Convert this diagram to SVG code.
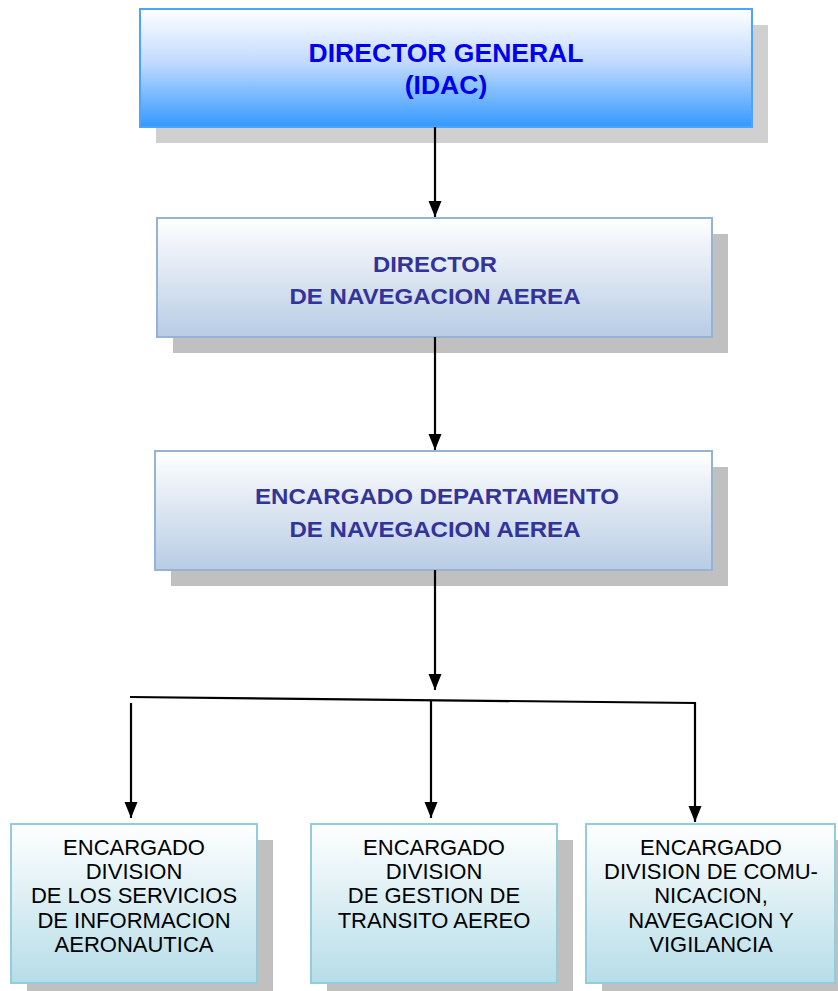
<svg xmlns="http://www.w3.org/2000/svg" width="838" height="991" viewBox="0 0 838 991">
<defs>
<linearGradient id="gTop" x1="0" y1="0" x2="0" y2="1">
<stop offset="0" stop-color="#ffffff"/>
<stop offset="0.45" stop-color="#c2daff"/>
<stop offset="1" stop-color="#3399ff"/>
</linearGradient>
<linearGradient id="gMid" x1="0" y1="0" x2="0" y2="1">
<stop offset="0" stop-color="#ffffff"/>
<stop offset="1" stop-color="#b8cce4"/>
</linearGradient>
<linearGradient id="gBot" x1="0" y1="0" x2="0" y2="1">
<stop offset="0" stop-color="#ffffff"/>
<stop offset="1" stop-color="#b6dde8"/>
</linearGradient>
<marker id="arr" markerUnits="userSpaceOnUse" markerWidth="16" markerHeight="18" refX="8" refY="17" orient="0" viewBox="0 0 16 18">
<path d="M1.5,1 L14.5,1 L8,17 Z" fill="#000"/>
</marker>
<style>
.shadowA{fill:#d0d0d0;}
.shadow{fill:#c0c0c0;}
.tTop{font-family:"Liberation Sans",Arial,sans-serif;font-weight:bold;font-size:26.5px;fill:#0000ee;text-anchor:middle;}
.tMid{font-family:"Liberation Sans",Arial,sans-serif;font-weight:bold;font-size:22px;fill:#333399;text-anchor:middle;}
.tBot{font-family:"Liberation Sans",Arial,sans-serif;font-size:22px;fill:#000;text-anchor:middle;}
.conn{stroke:#000;stroke-width:2.2;fill:none;}
</style>
</defs>

<g id="director-general">
<rect class="shadowA" x="156" y="25" width="612" height="118"/>
<rect x="140" y="9" width="612" height="118" fill="url(#gTop)" stroke="#4da3ff" stroke-width="2"/>
<text class="tTop" x="446" y="62">DIRECTOR GENERAL</text>
<text class="tTop" x="446" y="94">(IDAC)</text>
</g>

<g id="director-navegacion">
<rect class="shadow" x="173" y="234" width="555" height="119"/>
<rect x="157" y="218" width="555" height="119" fill="url(#gMid)" stroke="#95b3d7" stroke-width="2"/>
<text class="tMid" x="435" y="272" textLength="124" lengthAdjust="spacingAndGlyphs">DIRECTOR</text>
<text class="tMid" x="435" y="304" textLength="291" lengthAdjust="spacingAndGlyphs">DE NAVEGACION AEREA</text>
</g>

<g id="departamento">
<rect class="shadow" x="171" y="467" width="557" height="119"/>
<rect x="155" y="451" width="557" height="119" fill="url(#gMid)" stroke="#95b3d7" stroke-width="2"/>
<text class="tMid" x="437" y="504" textLength="364" lengthAdjust="spacingAndGlyphs">ENCARGADO DEPARTAMENTO</text>
<text class="tMid" x="435" y="537" textLength="291" lengthAdjust="spacingAndGlyphs">DE NAVEGACION AEREA</text>
</g>

<g id="div-ais">
<rect class="shadow" x="27" y="840" width="246" height="151"/>
<rect x="11" y="824" width="246" height="159" fill="url(#gBot)" stroke="#92cddc" stroke-width="2"/>
<text class="tBot" x="134" y="855">ENCARGADO</text>
<text class="tBot" x="134" y="879">DIVISION</text>
<text class="tBot" x="134" y="903">DE LOS SERVICIOS</text>
<text class="tBot" x="134" y="928">DE INFORMACION</text>
<text class="tBot" x="134" y="952">AERONAUTICA</text>
</g>

<g id="div-atm">
<rect class="shadow" x="327" y="840" width="246" height="151"/>
<rect x="311" y="824" width="246" height="159" fill="url(#gBot)" stroke="#92cddc" stroke-width="2"/>
<text class="tBot" x="434" y="855">ENCARGADO</text>
<text class="tBot" x="434" y="879">DIVISION</text>
<text class="tBot" x="434" y="903">DE GESTION DE</text>
<text class="tBot" x="434" y="928">TRANSITO AEREO</text>
</g>

<g id="div-cns">
<rect class="shadow" x="602" y="840" width="236" height="151"/>
<rect x="586" y="824" width="249" height="159" fill="url(#gBot)" stroke="#92cddc" stroke-width="2"/>
<text class="tBot" x="711" y="855">ENCARGADO</text>
<text class="tBot" x="711" y="879">DIVISION DE COMU-</text>
<text class="tBot" x="711" y="903">NICACION,</text>
<text class="tBot" x="711" y="928">NAVEGACION Y</text>
<text class="tBot" x="711" y="952">VIGILANCIA</text>
</g>

<g id="connectors">
<line class="conn" x1="435" y1="127" x2="435" y2="217" marker-end="url(#arr)"/>
<line class="conn" x1="435" y1="337" x2="435" y2="450" marker-end="url(#arr)"/>
<line class="conn" x1="435" y1="570" x2="435" y2="690" marker-end="url(#arr)"/>
<polyline class="conn" points="130,697 695,703 695,822" marker-end="url(#arr)"/>
<line class="conn" x1="131" y1="703" x2="131" y2="818" marker-end="url(#arr)"/>
<line class="conn" x1="431" y1="701" x2="431" y2="818" marker-end="url(#arr)"/>
</g>
</svg>
